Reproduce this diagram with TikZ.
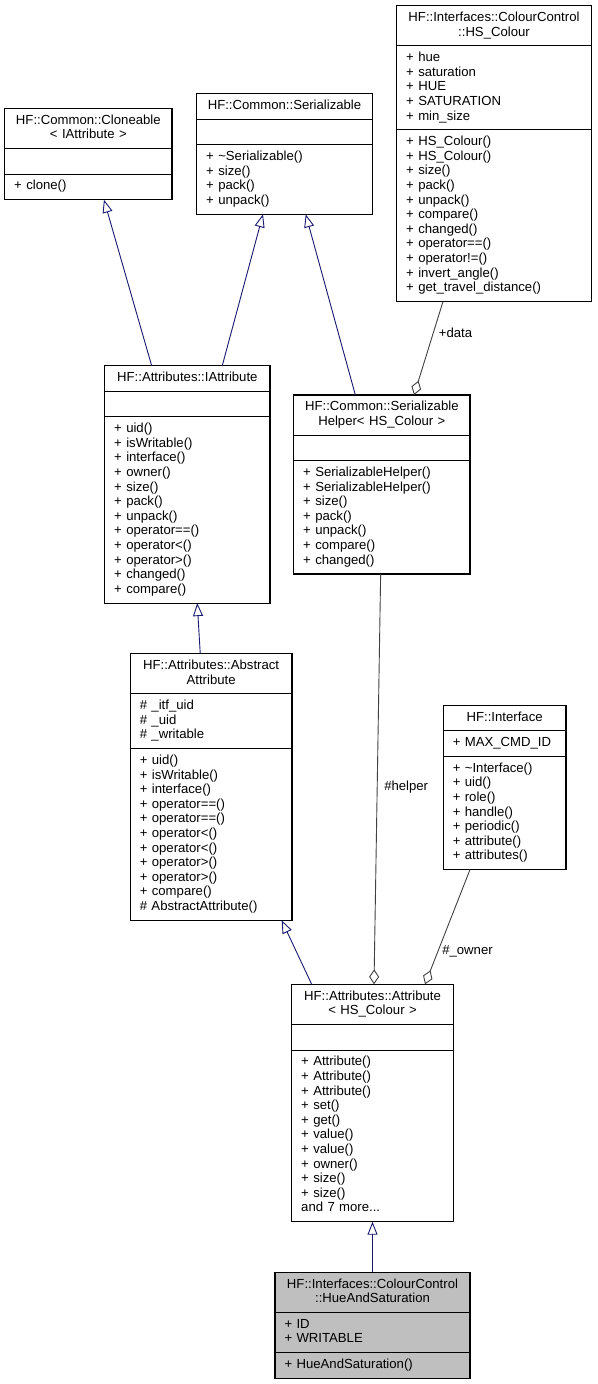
\documentclass[tikz,border=0pt]{standalone}
\usepackage{fontspec}
\setmainfont{Liberation Sans}
\usetikzlibrary{positioning, arrows.meta}

\definecolor{midnight}{HTML}{191970}
\definecolor{edgegray}{HTML}{404040}

% text of one compartment
\newcommand{\cpart}[1]{\strut#1\strut}

\begin{document}
\begin{tikzpicture}[x=1pt, y=-1pt,
    font=\fontsize{13.15}{14.6}\selectfont,
    cls/.style={draw=black, line width=1.1pt, fill=white, outer sep=0pt,
        inner xsep=9.5pt, inner ysep=0pt},
    ctitle/.style={cls, align=center},
    cbody/.style={cls, align=left},
    hilite/.style={fill=black!25},
    nrows/.style={minimum height=#1*14.6pt+11pt},
    inherit/.style={draw=midnight, line width=0.9pt,
        -{Triangle[open, length=13pt, width=10pt]}},
    aggreg/.style={draw=edgegray, line width=0.9pt,
        {Diamond[open, length=15pt, width=10pt]}-},
    edgelabel/.style={inner sep=0pt}]
    \useasboundingbox (0,0) rectangle (597,1384);

    % Cloneable
    \begin{scope}[every node/.append style={text width=148.3pt}]
    \node[ctitle, nrows=2, anchor=north west] (clone) at (4.7,108.3)
        {\cpart{HF::Common::Cloneable\\< IAttribute >}};
    \node[cbody, nrows=1, below=0pt of clone] (clone-a) {};
    \node[cbody, nrows=1, below=0pt of clone-a] (clone-m) {\cpart{+ clone()}};
    \end{scope}

    % Serializable
    \begin{scope}[every node/.append style={text width=156.6pt}]
    \node[ctitle, nrows=1, anchor=north west] (ser) at (196.7,93.7)
        {\cpart{HF::Common::Serializable}};
    \node[cbody, nrows=1, below=0pt of ser] (ser-a) {};
    \node[cbody, nrows=4, below=0pt of ser-a] (ser-m)
        {\cpart{+ \textasciitilde Serializable()\\+ size()\\+ pack()\\+ unpack()}};
    \end{scope}

    % HS_Colour
    \begin{scope}[every node/.append style={text width=175.6pt}]
    \node[ctitle, nrows=2, anchor=north west] (hscol) at (396.7,5.7)
        {\cpart{HF::Interfaces::ColourControl\\::HS\_Colour}};
    \node[cbody, nrows=5, below=0pt of hscol] (hscol-a)
        {\cpart{+ hue\\+ saturation\\+ HUE\\+ SATURATION\\+ min\_size}};
    \node[cbody, nrows=11, below=0pt of hscol-a] (hscol-m)
        {\cpart{+ HS\_Colour()\\+ HS\_Colour()\\+ size()\\+ pack()\\+ unpack()\\+ compare()\\+ changed()\\+ operator==()\\+ operator!=()\\+ invert\_angle()\\+ get\_travel\_distance()}};
    \end{scope}

    % IAttribute
    \begin{scope}[every node/.append style={text width=146.3pt}]
    \node[ctitle, nrows=1, anchor=north west] (iattr) at (104.7,365.7)
        {\cpart{HF::Attributes::IAttribute}};
    \node[cbody, nrows=1, below=0pt of iattr] (iattr-a) {};
    \node[cbody, nrows=12, below=0pt of iattr-a] (iattr-m)
        {\cpart{+ uid()\\+ isWritable()\\+ interface()\\+ owner()\\+ size()\\+ pack()\\+ unpack()\\+ operator==()\\+ operator<()\\+ operator>()\\+ changed()\\+ compare()}};
    \end{scope}

    % SerializableHelper
    \begin{scope}[every node/.append style={text width=157.3pt}]
    \node[ctitle, nrows=2, anchor=north west] (shelp) at (293.7,395)
        {\cpart{HF::Common::Serializable\\Helper< HS\_Colour >}};
    \node[cbody, nrows=1, below=0pt of shelp] (shelp-a) {};
    \node[cbody, nrows=7, below=0pt of shelp-a] (shelp-m)
        {\cpart{+ SerializableHelper()\\+ SerializableHelper()\\+ size()\\+ pack()\\+ unpack()\\+ compare()\\+ changed()}};
    \end{scope}

    % AbstractAttribute
    \begin{scope}[every node/.append style={text width=142.7pt}]
    \node[ctitle, nrows=2, anchor=north west] (absattr) at (130.3,653.7)
        {\cpart{HF::Attributes::Abstract\\Attribute}};
    \node[cbody, nrows=3, below=0pt of absattr] (absattr-a)
        {\cpart{\# \_itf\_uid\\\# \_uid\\\# \_writable}};
    \node[cbody, nrows=11, below=0pt of absattr-a] (absattr-m)
        {\cpart{+ uid()\\+ isWritable()\\+ interface()\\+ operator==()\\+ operator==()\\+ operator<()\\+ operator<()\\+ operator>()\\+ operator>()\\+ compare()\\\# AbstractAttribute()}};
    \end{scope}

    % Interface
    \begin{scope}[every node/.append style={text width=103.7pt}]
    \node[ctitle, nrows=1, anchor=north west] (iface) at (443.3,705.3)
        {\cpart{HF::Interface}};
    \node[cbody, nrows=1, below=0pt of iface] (iface-a) {\cpart{+ MAX\_CMD\_ID}};
    \node[cbody, nrows=7, below=0pt of iface-a] (iface-m)
        {\cpart{+ \textasciitilde Interface()\\+ uid()\\+ role()\\+ handle()\\+ periodic()\\+ attribute()\\+ attributes()}};
    \end{scope}

    % Attribute< HS_Colour >
    \begin{scope}[every node/.append style={text width=142.6pt}]
    \node[ctitle, nrows=2, anchor=north west] (attr) at (291.7,984.3)
        {\cpart{HF::Attributes::Attribute\\< HS\_Colour >}};
    \node[cbody, nrows=1, below=0pt of attr] (attr-a) {};
    \node[cbody, nrows=11, below=0pt of attr-a] (attr-m)
        {\cpart{+ Attribute()\\+ Attribute()\\+ Attribute()\\+ set()\\+ get()\\+ value()\\+ value()\\+ owner()\\+ size()\\+ size()\\and 7 more...}};
    \end{scope}

    % HueAndSaturation
    \begin{scope}[every node/.append style={text width=176pt}]
    \node[ctitle, hilite, nrows=2, anchor=north west] (hue) at (275,1272.3)
        {\cpart{HF::Interfaces::ColourControl\\::HueAndSaturation}};
    \node[cbody, hilite, nrows=2, below=0pt of hue] (hue-a) {\cpart{+ ID\\+ WRITABLE}};
    \node[cbody, hilite, nrows=1, below=0pt of hue-a] (hue-m) {\cpart{+ HueAndSaturation()}};
    \end{scope}

    % Inheritance
    \draw[inherit] ([xshift=-35.7pt]iattr.north) -- ([xshift=15.6pt]clone-m.south);
    \draw[inherit] ([xshift=34.9pt]iattr.north) -- ([xshift=-21.5pt]ser-m.south);
    \draw[inherit] ([xshift=-26.5pt]shelp.north) -- ([xshift=21.2pt]ser-m.south);
    \draw[inherit] ([xshift=-10.9pt]absattr.north) -- ([xshift=9.9pt]iattr-m.south);
    \draw[inherit] ([xshift=-60.8pt]attr.north) -- ([xshift=70.5pt]absattr-m.south);
    \draw[inherit] (hue.north) -- (attr-m.south);

    % Members
    \draw[aggreg] ([xshift=32.2pt]shelp.north) -- ([xshift=-51pt]hscol-m.south);
    \draw[aggreg] ([xshift=1.5pt]attr.north) -- ([xshift=-1.2pt]shelp-m.south);
    \draw[aggreg] ([xshift=52.5pt]attr.north) -- ([xshift=-34.7pt]iface-m.south);
    \node[edgelabel] (ldata) at (455.5,333) {+data};
    \node[edgelabel] (lhelper) at (406.2,786.7) {\#helper};
    \node[edgelabel] (lowner) at (467.5,951.7) {\#\_owner};
\end{tikzpicture}
\end{document}
